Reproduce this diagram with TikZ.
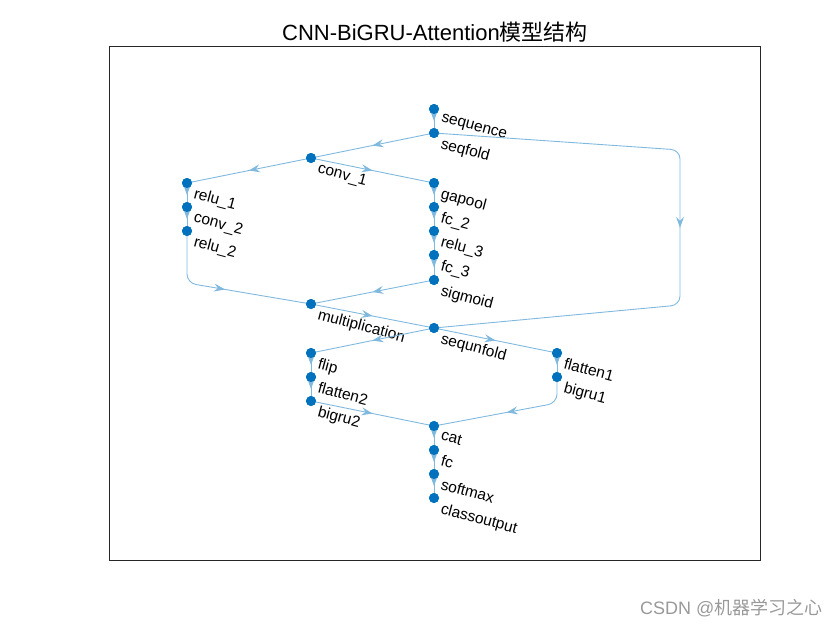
\documentclass[tikz,border=0pt]{standalone}
\usepackage{fontspec}
\setmainfont{Liberation Sans}
\newfontfamily\cjk{Noto Sans CJK SC}
\usepackage{tikz}
\usetikzlibrary{arrows.meta, decorations.markings}

\definecolor{nodeblue}{RGB}{0,114,189}
\definecolor{edgeblue}{RGB}{128,185,222}

\begin{document}
\begin{tikzpicture}[x=1pt, y=-1pt,
    layer/.style={circle, fill=nodeblue, inner sep=0pt, minimum size=10pt},
    lbl/.style={anchor=north west, rotate=-15, inner sep=0pt, font=\fontsize{15.5}{17}\selectfont, xshift=5pt, yshift=1pt},
    edge/.style={draw=edgeblue, line width=0.9pt, rounded corners=9pt, postaction={decorate},
        decoration={markings, mark=at position 0.5 with {\arrow[edgeblue]{Stealth[length=11pt, width=8pt, inset=4pt]}}}}]
    \useasboundingbox (0,0) rectangle (840,630);

    % Axes and title
    \draw[black!85, line width=0.6pt] (109,46) rectangle (760,560);
    \node (title) at (435,32) {\fontsize{22}{24}\selectfont CNN-BiGRU-Attention{\cjk 模型结构}};

    % Layers
    \node[layer, label={[lbl]-45:sequence}] (sequence) at (434,109) {};
    \node[layer, label={[lbl]-45:seqfold}] (seqfold) at (434,133) {};
    \node[layer, label={[lbl]-45:conv\_1}] (conv1) at (311,158) {};
    \node[layer, label={[lbl]-45:relu\_1}] (relu1) at (187,183) {};
    \node[layer, label={[lbl]-45:conv\_2}] (conv2) at (187,207) {};
    \node[layer, label={[lbl]-45:relu\_2}] (relu2) at (187,231) {};
    \node[layer, label={[lbl]-45:gapool}] (gapool) at (434,183) {};
    \node[layer, label={[lbl]-45:fc\_2}] (fc2) at (434,207) {};
    \node[layer, label={[lbl]-45:relu\_3}] (relu3) at (434,231) {};
    \node[layer, label={[lbl]-45:fc\_3}] (fc3) at (434,255) {};
    \node[layer, label={[lbl]-45:sigmoid}] (sigmoid) at (434,280) {};
    \node[layer, label={[lbl]-45:multiplication}] (mult) at (311,304) {};
    \node[layer, label={[lbl]-45:sequnfold}] (sequnfold) at (434,328) {};
    \node[layer, label={[lbl]-45:flip}] (flip) at (311,353) {};
    \node[layer, label={[lbl]-45:flatten2}] (flatten2) at (311,377) {};
    \node[layer, label={[lbl]-45:bigru2}] (bigru2) at (311,401) {};
    \node[layer, label={[lbl]-45:flatten1}] (flatten1) at (557,353) {};
    \node[layer, label={[lbl]-45:bigru1}] (bigru1) at (557,377) {};
    \node[layer, label={[lbl]-45:cat}] (cat) at (434,426) {};
    \node[layer, label={[lbl]-45:fc}] (fc) at (434,450) {};
    \node[layer, label={[lbl]-45:softmax}] (softmax) at (434,474) {};
    \node[layer, label={[lbl]-45:classoutput}] (classout) at (434,498) {};

    % Connections
    \path[edge] (sequence.center) -- (seqfold.center);
    \path[edge] (seqfold.center) -- (680,150) -- (680,305) -- (sequnfold.center);
    \path[edge] (seqfold.center) -- (conv1.center);
    \path[edge] (conv1.center) -- (relu1.center);
    \path[edge] (conv1.center) -- (gapool.center);
    \path[edge] (relu1.center) -- (conv2.center);
    \path[edge] (conv2.center) -- (relu2.center);
    \path[edge] (relu2.center) -- (187,283) -- (mult.center);
    \path[edge] (gapool.center) -- (fc2.center);
    \path[edge] (fc2.center) -- (relu3.center);
    \path[edge] (relu3.center) -- (fc3.center);
    \path[edge] (fc3.center) -- (sigmoid.center);
    \path[edge] (sigmoid.center) -- (mult.center);
    \path[edge] (mult.center) -- (sequnfold.center);
    \path[edge] (sequnfold.center) -- (flip.center);
    \path[edge] (sequnfold.center) -- (flatten1.center);
    \path[edge] (flip.center) -- (flatten2.center);
    \path[edge] (flatten2.center) -- (bigru2.center);
    \path[edge] (flatten1.center) -- (bigru1.center);
    \path[edge] (bigru2.center) -- (cat.center);
    \path[edge] (bigru1.center) -- (557,403) -- (cat.center);
    \path[edge] (cat.center) -- (fc.center);
    \path[edge] (fc.center) -- (softmax.center);
    \path[edge] (softmax.center) -- (classout.center);

    % Markers on top of the connections
    \foreach \n in {sequence, seqfold, conv1, relu1, conv2, relu2, gapool, fc2, relu3, fc3, sigmoid,
                    mult, sequnfold, flip, flatten2, bigru2, flatten1, bigru1, cat, fc, softmax, classout}
        \fill[nodeblue] (\n.center) circle (5);

    \node[anchor=east, text=black!40] (wm) at (826,608) {\fontsize{18}{20}\selectfont CSDN @{\cjk 机器学习之心}};
\end{tikzpicture}
\end{document}
